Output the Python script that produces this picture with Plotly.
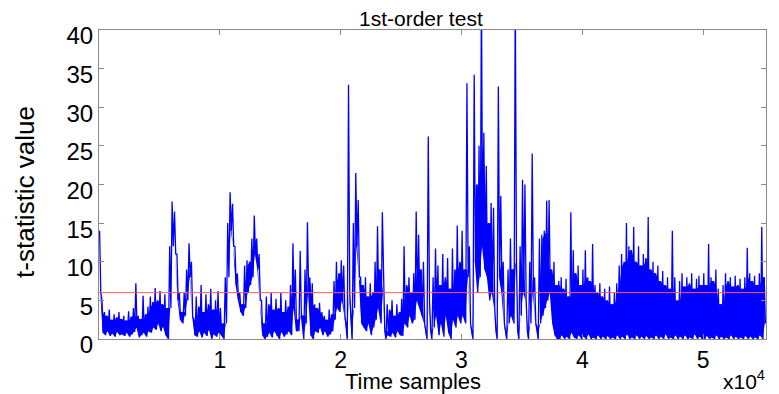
import numpy as np
import plotly.graph_objects as go

# Envelope of the t-statistic trace: per 200-sample block,
# the highest and lowest value the (very dense) trace reaches inside the block.
t_high = [
    14, 5, 3.5, 3, 3.8, 2.5, 3.2, 2.8, 3.5, 2.6,
    3.0, 2.4, 3.6, 2.9, 4.0, 7.2, 3.0, 2.6, 5.6, 3.2,
    4.2, 5.5, 4.8, 6.6, 5.0, 6.2, 4.5, 5.8, 4.0, 12,
    17.8, 16.5, 11, 6, 3.5, 6, 9, 12.4, 10, 2.5,
    5.5, 4.2, 7.0, 3.5, 5.8, 4.5, 6.5, 3.8, 5.0, 6.2,
    4.0, 2.0, 8, 15, 19, 17.5, 12, 8.5, 6, 4.5,
    9.5, 10.2, 10, 13, 16, 13, 11, 5, 2, 5.5,
    4.5, 6.0, 3.8, 5.2, 4.0, 6.0, 3.5, 5.0, 4.2, 7.0,
    12.4, 9, 2.5, 11.4, 3, 9, 15.1, 8, 7.2, 4.5,
    4.0, 4.7, 3.5, 3.0, 2.5, 3.8, 3.2, 7.5, 10, 8.5,
    10.2, 9.5, 2, 32.9, 3, 15, 21.5, 18, 8, 7,
    8.0, 5.5, 7.2, 6.0, 10, 14.6, 9, 16.4, 1, 4.5,
    3.8, 5.0, 3.0, 4.5, 3.5, 5.2, 12, 7, 8, 6,
    8.5, 16.5, 13.5, 9, 10, 1, 26.2, 1, 8, 11.7,
    9.5, 7.0, 11.0, 8.0, 10.5, 6.5, 11.7, 9, 14.7, 10,
    14, 9, 33.1, 12, 1, 34.2, 20, 25, 45, 26.7,
    22.4, 15, 17.6, 17, 1, 32.7, 18.5, 10, 1, 9,
    13, 9, 45, 1, 12, 20.6, 20, 1, 10, 24,
    8, 1.5, 13, 13.5, 14, 17.9, 18, 9, 10, 7,
    7.5, 8.0, 6.5, 7.8, 5.5, 16.4, 11.5, 8.5, 9.5, 7.0,
    9.0, 11.5, 8.0, 7.5, 12.3, 7.0, 6.0, 7.2, 5.5, 6.5,
    5.0, 6.8, 4.5, 6.0, 7.2, 9.5, 11, 10, 15, 12,
    11.5, 14.5, 10, 12, 9.5, 11, 10.5, 15.8, 9, 10,
    8.5, 9.5, 7.5, 8.8, 7.0, 8.0, 6.5, 14, 8.0, 5.0,
    7.5, 8.5, 6.8, 8.0, 7.2, 8.5, 6.5, 7.8, 8.2, 7.0,
    8.5, 7.0, 12.3, 8.0, 7.5, 9.0, 6.5, 4.5, 7.0, 8.5,
    7.5, 8.0, 6.8, 8.2, 7.0, 7.8, 6.5, 8.0, 11.8, 8.5,
    7.5, 8.2, 7.0, 8.5, 14.5, 8,
]
t_low = [
    6, 0.8, 0.5, 1.0, 0.4, 0.7, 0.3, 0.9, 0.5, 0.6,
    0.4, 0.8, 0.3, 0.6, 0.9, 1.5, 0.2, 0.5, 0.8, 0.3,
    1.0, 0.8, 1.5, 1.2, 2.0, 1.0, 1.6, 0.5, 0.0, 4.0,
    12, 11, 5, 2.5, 2.0, 3, 5, 8, 3, 0.5,
    0.3, 1.0, 0.2, 0.8, 0.4, 1.2, 0.0, 0.6, 0.3, 0.8,
    0.5, 0.0, 2.0, 8, 14, 12, 7, 5, 3.5, 3,
    4.0, 6, 7, 8, 11, 9, 5, 0.5, 0.0, 0.3,
    0.8, 0.2, 1.0, 0.4, 0.0, 0.9, 0.3, 0.6, 1.0, 0.5,
    4, 1.0, 1.0, 3, 0.0, 2, 6, 0.5, 0.0, 1.0,
    0.8, 1.5, 0.5, 1.0, 0.3, 0.6, 1.0, 2.5, 4, 3.5,
    5, 3, 0.0, 6, 0.0, 4, 12, 8, 2, 1.5,
    1.0, 2.0, 0.5, 1.5, 2.5, 4, 2, 6, 0.0, 0.5,
    0.3, 0.8, 0.2, 1.0, 0.5, 0.4, 2, 1.5, 3, 2,
    2.5, 5, 4, 3, 2, 0.0, 5, 0.0, 1.5, 3,
    0.5, 2.0, 0.3, 3.0, 0.8, 0.0, 2.5, 1.5, 3, 2,
    3, 2, 8, 2, 0.0, 10, 6, 8, 12, 9,
    8, 5, 6, 4, 0.0, 8, 6, 2, 0.0, 2,
    3, 2, 10, 0.0, 3, 6, 5, 0.0, 2, 6,
    2, 0.0, 2, 3, 4, 5, 6, 2, 0.5, 0.0,
    0.0, 0.5, 0.0, 0.3, 0.0, 0.8, 0.2, 0.0, 0.5, 0.0,
    0.3, 0.0, 0.6, 0.0, 0.2, 0.0, 0.5, 0.0, 0.3, 0.0,
    0.4, 0.0, 0.2, 0.0, 0.5, 0.0, 0.3, 0.0, 0.6, 0.0,
    0.2, 0.0, 0.5, 0.0, 0.3, 0.0, 0.4, 0.0, 0.2, 0.0,
    0.5, 0.0, 0.3, 0.0, 0.6, 0.0, 0.2, 0.0, 0.5, 0.0,
    0.3, 0.0, 0.5, 0.0, 0.2, 0.0, 0.6, 0.0, 0.3, 0.0,
    0.0, 0.4, 0.0, 0.2, 0.0, 0.5, 0.0, 0.3, 0.0, 0.2,
    0.0, 0.5, 0.0, 0.3, 0.0, 0.2, 0.0, 0.4, 0.0, 0.3,
    0.0, 0.2, 0.0, 0.5, 0.0, 2,
]
block = 200            # samples per read block
threshold = 6.0        # red threshold line
y_ticks = [0, 5, 10, 15, 20, 25, 30, 35, 40]
x_ticks = [10000, 20000, 30000, 40000, 50000]
x_tick_labels = ["1", "2", "3", "4", "5"]

hi = np.array(t_high, dtype=float)
lo = np.array(t_low, dtype=float)
n = len(hi)
x_max = n * block
centers = np.arange(n) * block + block / 2

# The trace swings between each block's high and low value.
zig_x = np.empty(2 * n)
zig_y = np.empty(2 * n)
zig_x[0::2] = np.arange(n) * block + block * 0.25
zig_x[1::2] = np.arange(n) * block + block * 0.75
zig_y[0::2] = hi
zig_y[1::2] = lo

# Where neighbouring blocks overlap, the dense trace paints solid ink:
# fill from the block low up to the lowest of the neighbouring highs.
padded = np.concatenate([[hi[0]], hi, [hi[-1]]])
solid_top = np.minimum(np.minimum(padded[:-2], padded[1:-1]), padded[2:])
solid_top = np.maximum(solid_top, lo)

FONT = "Liberation Sans, Arial, Helvetica, sans-serif"
BLUE = "#0000ff"

fig = go.Figure()
fig.add_trace(go.Scatter(x=centers, y=lo, mode="lines",
                         line=dict(color=BLUE, width=0), hoverinfo="skip"))
fig.add_trace(go.Scatter(x=centers, y=solid_top, mode="lines", fill="tonexty",
                         fillcolor=BLUE, line=dict(color=BLUE, width=0),
                         hoverinfo="skip"))
fig.add_trace(go.Scatter(x=zig_x, y=zig_y, mode="lines",
                         line=dict(color=BLUE, width=1.3), hoverinfo="skip"))
fig.add_trace(go.Scatter(x=[0, x_max], y=[threshold, threshold], mode="lines",
                         line=dict(color="#ff5a5a", width=1), hoverinfo="skip"))

axis_common = dict(showline=True, linecolor="#8a8a8a", linewidth=1, mirror="ticks",
                   ticks="inside", ticklen=5, tickcolor="#8a8a8a",
                   showgrid=False, zeroline=False,
                   tickfont=dict(family=FONT, size=24, color="black"))
fig.update_xaxes(range=[0, x_max], tickvals=x_ticks, ticktext=x_tick_labels,
                 **axis_common)
fig.update_xaxes(tickfont=dict(family=FONT, size=23, color="black"))
fig.update_yaxes(range=[0, 40], tickvals=y_ticks, ticklabelshift=6, **axis_common)

fig.update_layout(
    width=771, height=386,
    margin=dict(l=91, r=13, t=22, b=55, autoexpand=False),
    paper_bgcolor="white", plot_bgcolor="white",
    showlegend=False,
    annotations=[
        dict(text="1st-order test", x=0.483, y=1.0, xref="paper", yref="paper",
             xanchor="center", yanchor="middle", yshift=12, showarrow=False,
             font=dict(family=FONT, size=21, color="black")),
        dict(text="Time samples", x=0.471, y=0, xref="paper", yref="paper",
             xanchor="center", yanchor="middle", yshift=-42, showarrow=False,
             font=dict(family=FONT, size=22, color="black")),
        dict(text="x10<sup>4</sup>", x=1.0015, y=0, xref="paper", yref="paper",
             xanchor="right", yanchor="middle", yshift=-41, showarrow=False,
             font=dict(family=FONT, size=21, color="black")),
        dict(text="t-statistic value", x=0, y=0.476, xref="paper", yref="paper",
             xanchor="center", yanchor="middle", xshift=-74, textangle=-90,
             showarrow=False, font=dict(family=FONT, size=26, color="black")),
    ],
)

fig.write_html("out.html")
